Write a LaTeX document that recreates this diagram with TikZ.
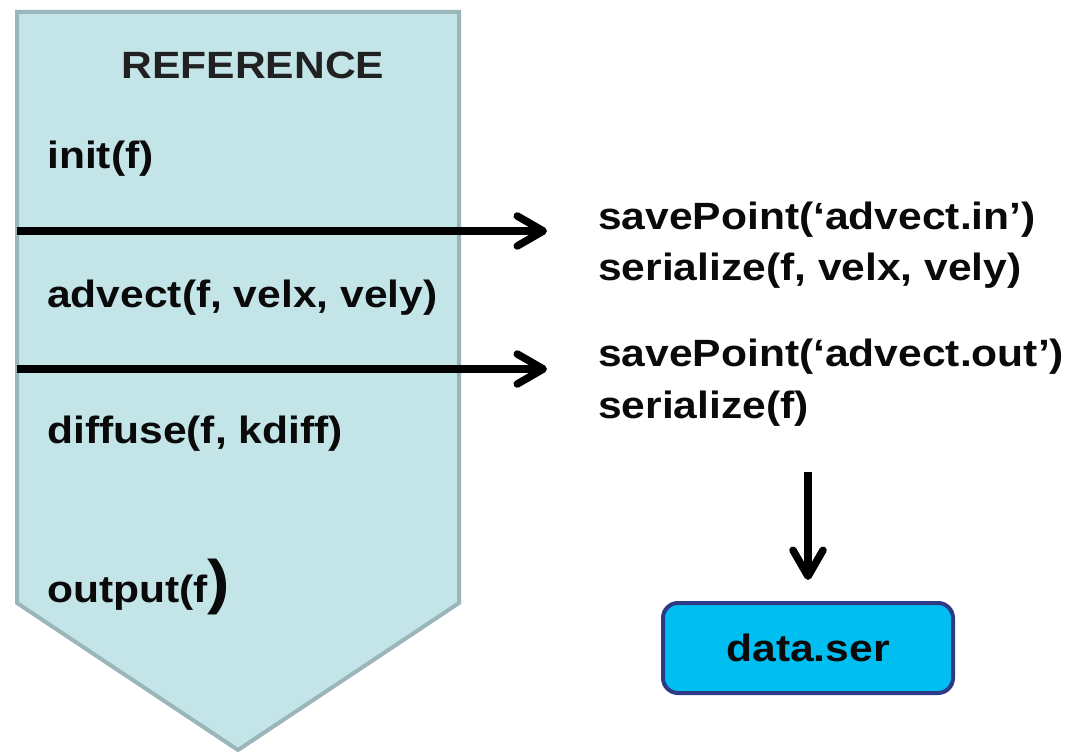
\documentclass[tikz,border=0pt]{standalone}
\usepackage{fontspec}
\setmainfont{Liberation Sans}
\usetikzlibrary{arrows.meta}
\definecolor{flowfill}{HTML}{C4E5E8}
\definecolor{flowedge}{HTML}{9BB6BA}
\definecolor{filefill}{HTML}{00BEF0}
\definecolor{fileedge}{HTML}{2E3A88}
\definecolor{ink}{HTML}{0A0A0A}
% Arial-like bold text, slightly widened
\newcommand\widetext[1]{\scalebox{1.12}[1]{#1}}
\tikzset{
  label text/.style={anchor=base west, inner sep=0pt, text=ink,
    font=\fontsize{38}{44}\selectfont\bfseries},
  flow arrow/.style={line width=7.5pt, draw=black,
    -{Straight Barb[length=26pt,width=30pt,round]}},
  file box/.style={draw=fileedge, fill=filefill, line width=4pt,
    rounded corners=15pt, minimum width=290pt, minimum height=90pt,
    inner sep=0pt, font=\fontsize{38}{44}\selectfont\bfseries, text=ink}
}
\begin{document}
\begin{tikzpicture}[x=1pt,y=-1pt]
\useasboundingbox (0,0) rectangle (1066,752);

% the program flow as a downward arrow
\draw[flowedge, fill=flowfill, line width=4pt, line join=miter]
  (17,12) -- (459,12) -- (459,603) -- (238,750) -- (17,603) -- cycle;

\node[label text, anchor=base, text=black!87] (title) at (253,78) {\widetext{REFERENCE}};
\node[label text] (init) at (47,168) {\widetext{init(f)}};
\node[label text] (advect) at (47,307) {\widetext{advect(f, velx, vely)}};
\node[label text] (diffuse) at (47,443) {\widetext{diffuse(f, kdiff)}};
\node[label text] (output) at (47,602) {\widetext{output(f\fontsize{60}{60}\selectfont)}};

% serialization calls
\node[label text] (sp1) at (598,229) {\widetext{savePoint(‘advect.in’)}};
\node[label text] (ser1) at (598,280) {\widetext{serialize(f, velx, vely)}};
\node[label text] (sp2) at (598,366) {\widetext{savePoint(‘advect.out’)}};
\node[label text] (ser2) at (598,418) {\widetext{serialize(f)}};

\node[file box] (data) at (808,648) {\widetext{data.ser}};

\coordinate (in1) at (17,231);
\coordinate (in2) at (17,369);
\coordinate (tip1) at (547,231);
\coordinate (tip2) at (547,369);
\coordinate (down) at (808,472);

\draw[flow arrow] (in1) -- (tip1);
\draw[flow arrow] (in2) -- (tip2);
\draw[flow arrow, shorten >=21pt] (down) -- (data.north);
\end{tikzpicture}
\end{document}
